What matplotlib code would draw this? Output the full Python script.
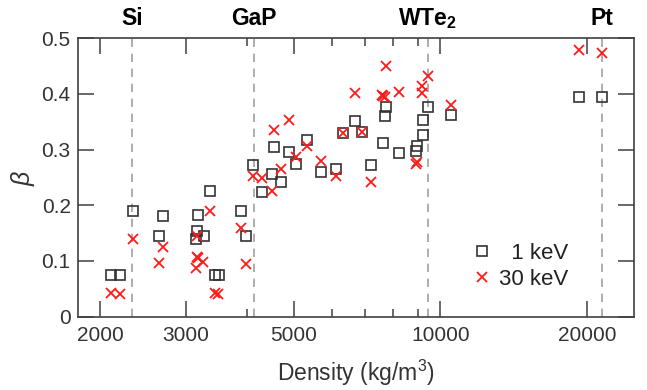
import numpy as np
import matplotlib
matplotlib.use("Agg")
import matplotlib.pyplot as plt
from matplotlib.ticker import FixedLocator, FixedFormatter, NullFormatter
from matplotlib.transforms import blended_transform_factory

plt.rcParams["font.family"] = ["Liberation Sans", "DejaVu Sans"]
plt.rcParams["mathtext.fontset"] = "custom"
plt.rcParams["mathtext.rm"] = "Liberation Sans"
plt.rcParams["mathtext.it"] = "Liberation Sans:italic"
plt.rcParams["mathtext.bf"] = "Liberation Sans:bold"

# Data: density (kg/m^3) and beta.
density_1kev = [
    2104, 2198, 2335, 2644, 2698, 3174, 3159, 3149, 3271, 3365,
    3445, 3516, 3897, 3984, 4130, 4297, 4505, 4561, 4701, 4896,
    5053, 5315, 5678, 6105, 6301, 6694, 6903, 7193, 7612, 7732,
    7696, 8233, 8913, 8943, 9200, 9200, 9447, 10499, 19286, 21438,
]
beta_1kev = [
    0.075, 0.075, 0.190, 0.144, 0.180, 0.183, 0.153, 0.139, 0.145, 0.226,
    0.075, 0.074, 0.190, 0.144, 0.273, 0.224, 0.257, 0.305, 0.241, 0.296,
    0.275, 0.317, 0.259, 0.265, 0.329, 0.352, 0.331, 0.272, 0.312, 0.377,
    0.360, 0.294, 0.298, 0.307, 0.326, 0.353, 0.377, 0.362, 0.395, 0.394,
]
density_30kev = [
    2104, 2198, 2335, 2644, 2698, 3143, 3159, 3174, 3251, 3165,
    3365, 3445, 3490, 3897, 3984, 4130, 4297, 4505, 4561, 4701,
    4896, 5053, 5315, 5678, 6105, 6301, 6694, 6903, 7193, 7576,
    7636, 7696, 7732, 8233, 8913, 8943, 9156, 9156, 9447, 10499,
    19286, 21438,
]
beta_30kev = [
    0.043, 0.041, 0.140, 0.097, 0.126, 0.088, 0.108, 0.105, 0.099, 0.145,
    0.190, 0.043, 0.041, 0.159, 0.095, 0.253, 0.249, 0.226, 0.336, 0.266,
    0.353, 0.286, 0.307, 0.280, 0.253, 0.329, 0.402, 0.332, 0.242, 0.398,
    0.396, 0.395, 0.450, 0.403, 0.275, 0.278, 0.414, 0.402, 0.432, 0.380,
    0.479, 0.474,
]

materials = ["Si", r"GaP", r"WTe$_\mathbf{2}$", "Pt"]
material_density = [2330, 4138, 9430, 21450]

xticks_major = [2000, 3000, 5000, 10000, 20000]
xticks_minor = [4000, 6000, 7000, 8000, 9000]
yticks = [0, 0.1, 0.2, 0.3, 0.4, 0.5]
ytick_labels = ["0", "0.1", "0.2", "0.3", "0.4", "0.5"]

spine = "#404040"

fig = plt.figure(figsize=(6.47, 3.90), dpi=100)
ax = fig.add_axes([0.120, 0.188, 0.860, 0.714])

for d in material_density:
    ax.axvline(d, color="#a0a0a0", lw=1.2, ls=(0, (5, 4)), zorder=1)

ax.plot(density_1kev, beta_1kev, ls="none", marker="s", ms=7.4,
        mfc="none", mec="#333333", mew=1.2, label="  1 keV", zorder=3)
ax.plot(density_30kev, beta_30kev, ls="none", marker="x", ms=7.2,
        mec="#ff1a1a", mew=1.3, label="30 keV", zorder=4)

ax.set_xscale("log")
ax.set_xlim(1800, 25000)
ax.set_ylim(0, 0.5)

ax.xaxis.set_major_locator(FixedLocator(xticks_major))
ax.xaxis.set_major_formatter(FixedFormatter([str(t) for t in xticks_major]))
ax.xaxis.set_minor_locator(FixedLocator(xticks_minor))
ax.xaxis.set_minor_formatter(NullFormatter())
ax.yaxis.set_major_locator(FixedLocator(yticks))
ax.yaxis.set_major_formatter(FixedFormatter(ytick_labels))

ax.tick_params(which="both", direction="in", top=True, right=True,
               color=spine, labelcolor="#333333", labelsize=15, width=1.1)
ax.tick_params(which="major", length=11.5)
ax.tick_params(which="minor", length=6)
ax.tick_params(axis="x", pad=7)
ax.tick_params(axis="y", pad=5)
for s in ax.spines.values():
    s.set_color(spine)
    s.set_linewidth(1.2)

ax.set_xlabel("Density (kg/m$^3$)", fontsize=16.5, color="#333333", labelpad=9)
ax.set_ylabel(r"$\beta$", fontsize=18, color="#333333", labelpad=3)

trans = blended_transform_factory(ax.transData, ax.transAxes)
for name, d in zip(materials, material_density):
    ax.text(d, 1.072, name, transform=trans, ha="center", va="center",
            fontsize=16.5, fontweight="bold", color="black")

ax.legend(loc="lower left", bbox_to_anchor=(0.69, 0.065), frameon=False,
          fontsize=16, handlelength=1.0, handletextpad=0.3,
          labelspacing=0.2, borderaxespad=0, labelcolor="#222222")

plt.savefig("out.png", dpi=100, facecolor="w")
plt.close()
